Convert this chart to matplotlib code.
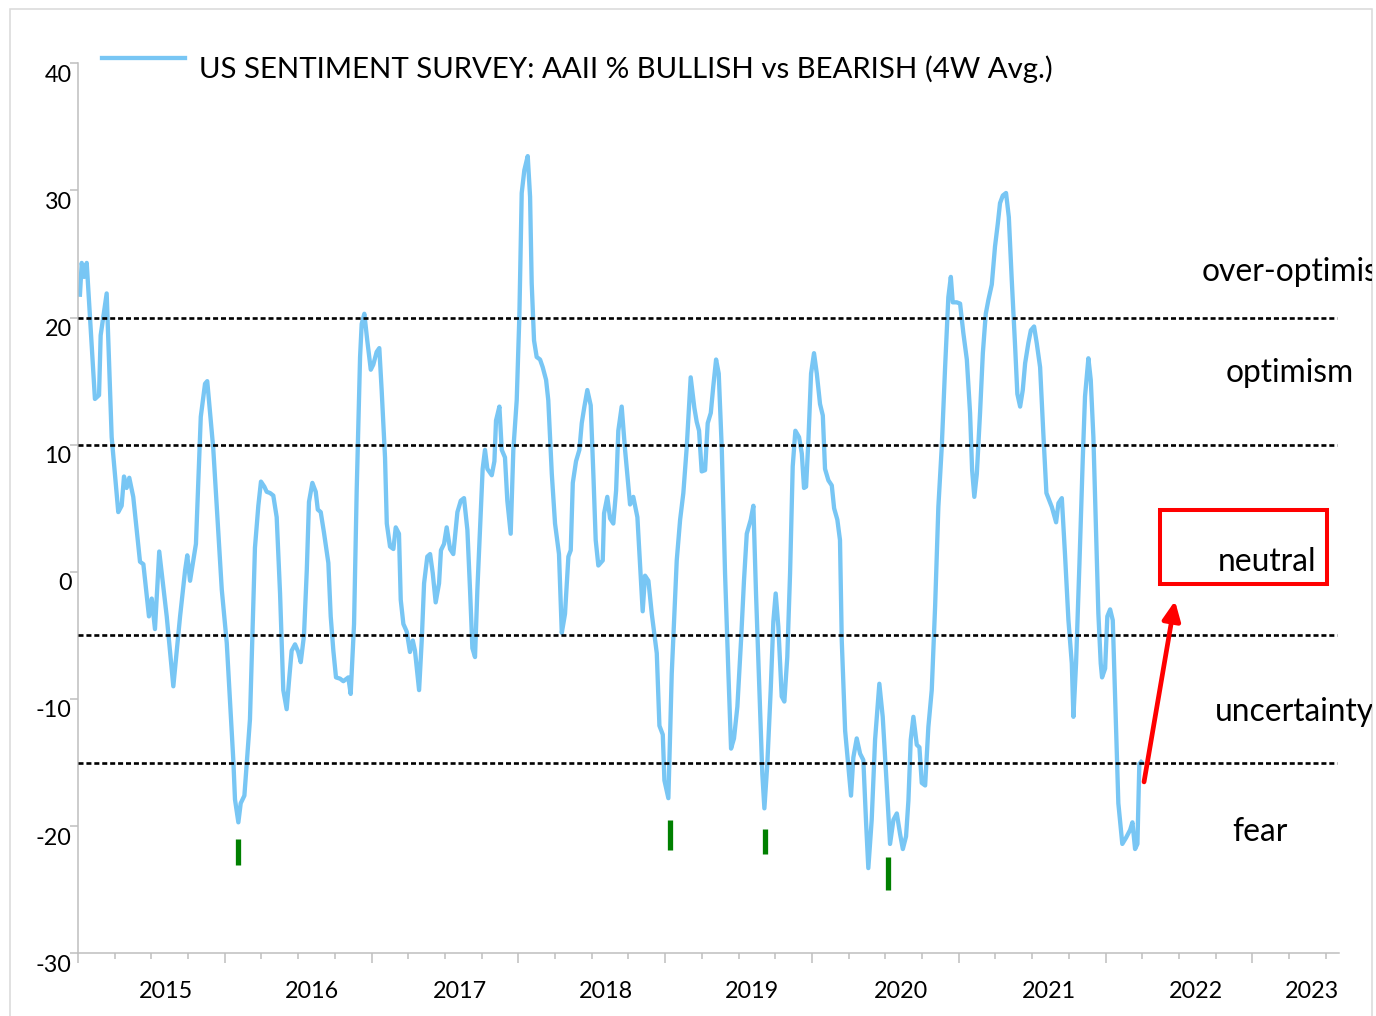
import matplotlib
matplotlib.use("Agg")
import matplotlib.pyplot as plt
from matplotlib.patches import Rectangle, FancyArrowPatch
from matplotlib.lines import Line2D
from matplotlib.transforms import ScaledTranslation, Bbox, TransformedBbox

plt.rcParams['font.family'] = ['Lato', 'DejaVu Sans']

# AAII bullish minus bearish, 4 week average (decimal year, %)
dates = [
    2015.014, 2015.026, 2015.042, 2015.060, 2015.082, 2015.116, 2015.144, 2015.155, 2015.196, 2015.230,
    2015.275, 2015.298, 2015.314, 2015.332, 2015.350, 2015.377, 2015.423, 2015.446, 2015.484, 2015.503,
    2015.525, 2015.554, 2015.605, 2015.650, 2015.696, 2015.730, 2015.745, 2015.764, 2015.804, 2015.837,
    2015.866, 2015.881, 2015.922, 2015.980, 2016.014, 2016.059, 2016.070, 2016.093, 2016.109, 2016.134,
    2016.172, 2016.195, 2016.206, 2016.229, 2016.247, 2016.270, 2016.286, 2016.309, 2016.331, 2016.354,
    2016.377, 2016.399, 2016.422, 2016.440, 2016.456, 2016.479, 2016.501, 2016.518, 2016.540, 2016.559,
    2016.574, 2016.597, 2016.620, 2016.634, 2016.654, 2016.676, 2016.706, 2016.722, 2016.740, 2016.758,
    2016.786, 2016.808, 2016.842, 2016.858, 2016.881, 2016.899, 2016.922, 2016.933, 2016.951, 2016.971,
    2016.995, 2017.012, 2017.035, 2017.053, 2017.069, 2017.092, 2017.104, 2017.126, 2017.149, 2017.165,
    2017.187, 2017.199, 2017.217, 2017.240, 2017.262, 2017.281, 2017.296, 2017.324, 2017.342, 2017.358,
    2017.380, 2017.399, 2017.417, 2017.437, 2017.460, 2017.473, 2017.494, 2017.512, 2017.535, 2017.557,
    2017.585, 2017.608, 2017.630, 2017.653, 2017.671, 2017.687, 2017.705, 2017.721, 2017.757, 2017.773,
    2017.789, 2017.819, 2017.837, 2017.848, 2017.871, 2017.887, 2017.909, 2017.925, 2017.948, 2017.966,
    2017.989, 2018.007, 2018.023, 2018.041, 2018.064, 2018.080, 2018.091, 2018.107, 2018.125, 2018.148,
    2018.166, 2018.189, 2018.204, 2018.228, 2018.250, 2018.277, 2018.296, 2018.318, 2018.341, 2018.357,
    2018.371, 2018.393, 2018.416, 2018.432, 2018.450, 2018.470, 2018.493, 2018.511, 2018.527, 2018.545,
    2018.575, 2018.584, 2018.606, 2018.625, 2018.647, 2018.666, 2018.681, 2018.704, 2018.727, 2018.761,
    2018.783, 2018.811, 2018.847, 2018.863, 2018.886, 2018.909, 2018.943, 2018.961, 2018.984, 2018.995,
    2019.022, 2019.045, 2019.079, 2019.102, 2019.124, 2019.147, 2019.174, 2019.199, 2019.215, 2019.231,
    2019.249, 2019.272, 2019.290, 2019.311, 2019.328, 2019.347, 2019.365, 2019.386, 2019.408, 2019.431,
    2019.449, 2019.469, 2019.492, 2019.517, 2019.537, 2019.556, 2019.583, 2019.601, 2019.619, 2019.642,
    2019.662, 2019.676, 2019.696, 2019.719, 2019.737, 2019.753, 2019.771, 2019.794, 2019.812, 2019.832,
    2019.851, 2019.869, 2019.887, 2019.912, 2019.931, 2019.946, 2019.960, 2019.976, 2019.994, 2020.014,
    2020.033, 2020.055, 2020.074, 2020.089, 2020.112, 2020.135, 2020.151, 2020.173, 2020.191, 2020.203,
    2020.226, 2020.248, 2020.266, 2020.282, 2020.305, 2020.328, 2020.350, 2020.369, 2020.384, 2020.407,
    2020.430, 2020.459, 2020.482, 2020.505, 2020.532, 2020.555, 2020.578, 2020.600, 2020.619, 2020.641,
    2020.657, 2020.673, 2020.691, 2020.714, 2020.732, 2020.748, 2020.771, 2020.793, 2020.816, 2020.839,
    2020.861, 2020.884, 2020.907, 2020.929, 2020.946, 2020.959, 2020.986, 2021.009, 2021.031, 2021.055,
    2021.077, 2021.091, 2021.106, 2021.123, 2021.145, 2021.164, 2021.184, 2021.202, 2021.225, 2021.247,
    2021.266, 2021.281, 2021.300, 2021.322, 2021.341, 2021.361, 2021.384, 2021.399, 2021.418, 2021.436,
    2021.452, 2021.474, 2021.491, 2021.513, 2021.531, 2021.554, 2021.576, 2021.597, 2021.634, 2021.663,
    2021.679, 2021.702, 2021.724, 2021.747, 2021.770, 2021.781, 2021.799, 2021.822, 2021.845, 2021.860,
    2021.883, 2021.899, 2021.917, 2021.935, 2021.951, 2021.967, 2021.976, 2021.997, 2022.012, 2022.031,
    2022.049, 2022.065, 2022.087, 2022.114, 2022.140, 2022.167, 2022.183, 2022.201, 2022.217, 2022.230,
    2022.242,
]
spread = [
    21.8, 24.3, 23.2, 24.3, 20.1, 13.6, 13.9, 18.6, 21.9, 10.6,
    4.7, 5.2, 7.5, 6.6, 7.4, 5.9, 0.8, 0.6, -3.5, -2.1,
    -4.5, 1.6, -3.5, -9.0, -3.5, 0.1, 1.3, -0.7, 2.2, 12.2,
    14.8, 15.0, 9.7, -1.4, -5.6, -14.9, -17.9, -19.7, -18.2, -17.6,
    -11.6, -2.6, 1.9, 5.2, 7.1, 6.7, 6.3, 6.2, 6.0, 4.3,
    -1.7, -9.3, -10.8, -8.3, -6.2, -5.7, -6.3, -7.1, -5.0, 0.1,
    5.5, 7.0, 6.3, 4.9, 4.7, 3.1, 0.7, -3.5, -6.2, -8.3,
    -8.4, -8.6, -8.3, -9.6, -4.1, 6.4, 16.9, 19.5, 20.3, 18.2,
    15.9, 16.3, 17.3, 17.6, 14.3, 9.0, 3.8, 2.0, 1.8, 3.5,
    3.0, -2.2, -4.1, -4.7, -6.3, -5.4, -6.2, -9.3, -5.4, -0.9,
    1.2, 1.4, -0.1, -2.4, -0.9, 1.7, 2.2, 3.5, 1.8, 1.4,
    4.7, 5.6, 5.8, 3.3, -1.4, -6.0, -6.7, -1.4, 8.1, 9.6,
    8.1, 7.6, 8.7, 11.9, 13.0, 9.6, 9.0, 5.6, 3.0, 9.6,
    13.5, 20.1, 29.8, 31.6, 32.7, 29.5, 22.7, 18.2, 16.9, 16.7,
    16.1, 15.1, 13.5, 7.7, 3.8, 1.4, -4.8, -3.3, 1.2, 1.7,
    7.0, 8.7, 9.6, 11.7, 13.0, 14.3, 13.1, 7.7, 2.5, 0.5,
    0.9, 4.6, 5.9, 4.2, 3.8, 6.4, 11.1, 13.0, 9.6, 5.3,
    5.9, 4.3, -3.1, -0.3, -0.7, -3.3, -6.4, -12.1, -12.8, -16.4,
    -17.8, -8.0, 0.9, 4.1, 6.2, 9.8, 15.3, 12.9, 11.8, 11.1,
    7.9, 8.0, 11.7, 12.5, 14.6, 16.7, 15.6, 9.6, -0.1, -8.0,
    -13.9, -13.1, -10.6, -5.4, -0.7, 3.0, 4.1, 5.2, -1.7, -9.3,
    -15.9, -18.6, -15.1, -9.3, -3.9, -1.7, -4.3, -9.8, -10.2, -6.7,
    -0.1, 8.3, 11.1, 10.6, 9.3, 6.6, 6.7, 10.4, 15.6, 17.2,
    15.6, 13.2, 12.3, 8.1, 7.2, 6.8, 5.0, 4.1, 2.5, -5.4,
    -12.5, -15.3, -17.6, -14.6, -13.1, -14.3, -14.8, -19.8, -23.3, -19.5,
    -13.2, -8.8, -11.4, -15.9, -21.4, -19.5, -19.0, -20.6, -21.8, -20.8,
    -18.0, -13.2, -11.4, -13.6, -13.8, -16.6, -16.8, -12.2, -9.3, -2.7,
    5.1, 9.8, 16.1, 21.6, 23.2, 21.2, 21.2, 21.1, 18.8, 16.7,
    12.5, 8.0, 5.9, 7.7, 12.5, 17.2, 20.3, 21.4, 22.6, 25.6,
    27.4, 29.0, 29.6, 29.8, 27.9, 22.95, 17.7, 14.0, 13.0, 14.3,
    16.4, 18.0, 19.0, 19.3, 18.0, 16.1, 10.9, 6.2, 5.1, 3.9,
    5.4, 5.8, 1.3, -3.8, -7.2, -11.4, -7.2, 0.65, 9.0, 13.8,
    16.8, 15.1, 10.6, 3.3, -3.3, -7.2, -8.3, -7.6, -3.5, -2.95,
    -3.8, -9.8, -18.2, -21.4, -20.9, -20.3, -19.7, -21.8, -21.4, -15.1,
    -14.95,
]

zone_levels = [20, 10, -5, -15]
zone_names = ["over-optimism", "optimism", "neutral", "uncertainty", "fear"]

# green markers under the sentiment lows
low_dates = [2016.093, 2019.031, 2019.678, 2020.515]
low_top = [-21.03, -19.54, -20.19, -22.45]
low_bottom = [-23.08, -21.86, -22.16, -25.05]

year_ticks = list(range(2015, 2024))
year_labels = [str(y) for y in year_ticks]
year_label_pos = [2015.600, 2016.596, 2017.601, 2018.597, 2019.592, 2020.608, 2021.614, 2022.613, 2023.405]

line_color = "#78C6F4"
axis_grey = "#BFBFBF"

W, H = 1376, 1016


def fx(px):
    return px / W


def fy(py):
    return 1 - py / H


fig = plt.figure(figsize=(W / 100, H / 100), dpi=100)
ax = fig.add_axes([fx(77.9), fy(953.3), fx(1339) - fx(77.9), fy(63.3) - fy(953.3)])

ax.plot(dates, spread, color=line_color, lw=3.1, solid_joinstyle="round", zorder=2)
ax.hlines(zone_levels, 2015.0, 2023.575, colors="black", lw=1.9,
          linestyles=[(0, (1.9, 1.1))], zorder=3)
ax.vlines(low_dates, low_bottom, low_top, colors="#008000", lw=3.8, zorder=3)

ax.set_xlim(2015.0, 2023.59)
ax.set_ylim(-30, 40)

for s in ["top", "right"]:
    ax.spines[s].set_visible(False)
for s in ["left", "bottom"]:
    ax.spines[s].set_color(axis_grey)
    ax.spines[s].set_linewidth(1.1)

ax.set_yticks(range(-30, 41, 10))
ax.set_xticks(year_ticks)
ax.set_xticks([y + q / 4 for y in range(2015, 2024) for q in (1, 2, 3) if y + q / 4 < 2023.59], minor=True)
ax.tick_params(axis="y", length=5.8, width=1.1, color=axis_grey, labelleft=False)
ax.tick_params(axis="x", which="major", length=7.2, width=1.1, color=axis_grey, labelbottom=False)
ax.tick_params(axis="x", which="minor", length=4.3, width=1.1, color=axis_grey)

# Excel style labels sit a little below their tick
ylab_tr = ax.get_yaxis_transform() + ScaledTranslation(-0.062, -0.184, fig.dpi_scale_trans)
for v in range(-30, 41, 10):
    ax.text(0, v, str(v), transform=ylab_tr, ha="right", va="baseline", fontsize=16.8)

xlab_tr = ax.get_xaxis_transform() + ScaledTranslation(0, -0.45, fig.dpi_scale_trans)
for pos, lab in zip(year_label_pos, year_labels):
    ax.text(pos, 0, lab, transform=xlab_tr, ha="center", va="baseline", fontsize=16.8)

# legend
fig.add_artist(Line2D([fx(102), fx(185)], [fy(57.7), fy(57.7)], color=line_color, lw=3.1))
fig.text(fx(199), fy(78.3), "US SENTIMENT SURVEY: AAII % BULLISH vs BEARISH (4W Avg.)",
         ha="left", va="baseline", fontsize=21.2)

# zone labels on the right (the first one is cut by the frame, as in the source)
zone_x = [1202, 1226, 1218, 1215, 1232]
zone_y = [281, 382, 571, 721, 841]
clip = TransformedBbox(Bbox.from_extents(0, 0, fx(1372), 1), fig.transFigure)
for name, zx, zy in zip(zone_names, zone_x, zone_y):
    t = fig.text(fx(zx), fy(zy), name, ha="left", va="baseline", fontsize=22.9)
    t.set_clip_box(clip)
    t.set_clip_on(True)

# red box around "neutral" and the arrow pointing to it
ax.add_patch(Rectangle((2022.371, -0.97), 2023.507 - 2022.371, 4.83 + 0.97,
                       fill=False, ec="#FF0000", lw=2.9, joinstyle="miter", zorder=4))
ax.add_patch(FancyArrowPatch((2022.262, -16.52), (2022.473, -2.28),
                             arrowstyle="-|>,head_length=11.5,head_width=5.4",
                             mutation_scale=1, color="#FF0000", lw=3.4,
                             shrinkA=0, shrinkB=0, zorder=4))

# outer frame of the chart area
fig.add_artist(Rectangle((fx(10), -0.05), fx(1372) - fx(10), fy(9.3) + 0.05,
                         transform=fig.transFigure, fill=False, ec="#D9D9D9", lw=1.1))

fig.savefig("out.png", dpi=100)
